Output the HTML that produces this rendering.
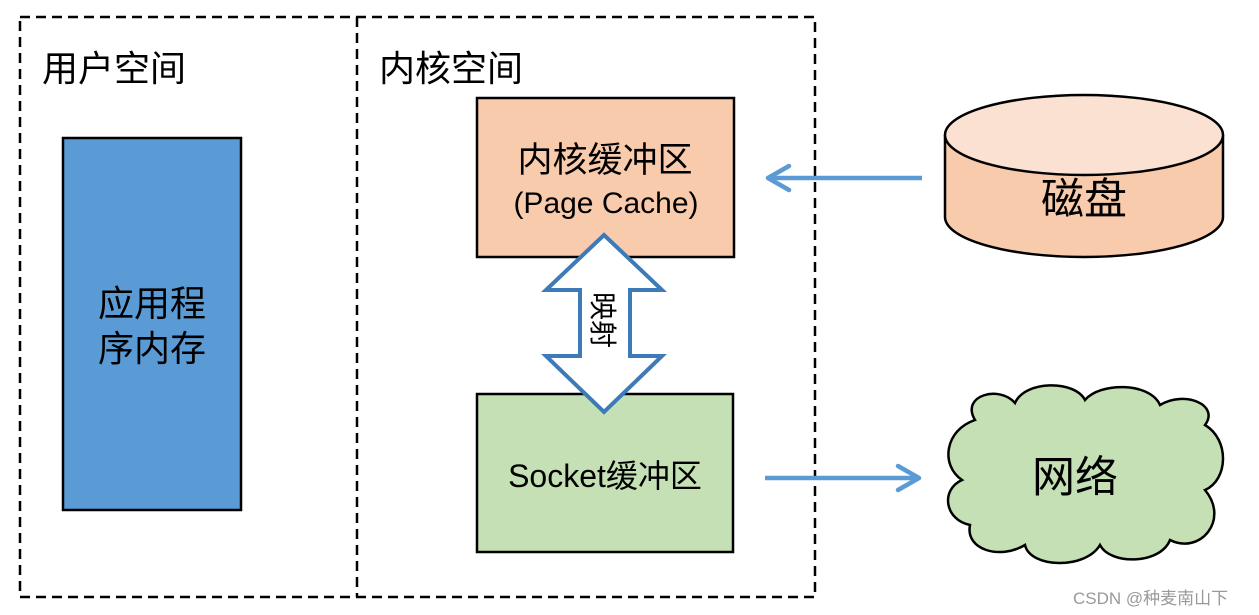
<!DOCTYPE html>
<html><head><meta charset="utf-8"><style>
html,body{margin:0;padding:0;background:#fff;}
svg{display:block;}
text{font-family:"Liberation Sans","Noto Sans CJK SC",sans-serif;fill:#000;}
</style></head><body>
<svg width="1259" height="615" viewBox="0 0 1259 615" xmlns="http://www.w3.org/2000/svg">
<rect x="20" y="17" width="795" height="580" fill="none" stroke="#000" stroke-width="2.5" stroke-dasharray="10,6"/>
<line x1="357" y1="17" x2="357" y2="597" stroke="#000" stroke-width="2.5" stroke-dasharray="10,6"/>
<text x="42" y="81" font-size="36">用户空间</text>
<text x="379" y="81" font-size="36">内核空间</text>
<rect x="63" y="138" width="178" height="372" fill="#5b9bd5" stroke="#000" stroke-width="2.5"/>
<text x="152" y="316" font-size="36" text-anchor="middle">应用程</text>
<text x="152" y="361" font-size="36" text-anchor="middle">序内存</text>
<rect x="477" y="98" width="257" height="159" fill="#f8cbad" stroke="#000" stroke-width="2.5"/>
<text x="605" y="172" font-size="35" text-anchor="middle">内核缓冲区</text>
<text x="606" y="213" font-size="30" text-anchor="middle">(Page Cache)</text>
<rect x="477" y="394" width="256" height="158" fill="#c5e0b4" stroke="#000" stroke-width="2.5"/>
<text x="605" y="487" font-size="32" text-anchor="middle">Socket缓冲区</text>
<polygon points="604,235 662,290 630,290 630,356 662,356 604,412 546,356 580,356 580,290 546,290" fill="#fff" stroke="#3d7ab8" stroke-width="4" stroke-linejoin="miter"/>
<text x="0" y="0" font-size="28" transform="translate(593,292) rotate(90)">映射</text>
<line x1="922" y1="178" x2="770" y2="178" stroke="#5b9bd5" stroke-width="4.5"/>
<polyline points="789,166 768,178 789,190" fill="none" stroke="#5b9bd5" stroke-width="4.5" stroke-linecap="round" stroke-linejoin="round"/>
<line x1="765" y1="478" x2="916" y2="478" stroke="#5b9bd5" stroke-width="4.5"/>
<polyline points="898,466 919,478 898,490" fill="none" stroke="#5b9bd5" stroke-width="4.5" stroke-linecap="round" stroke-linejoin="round"/>
<path d="M945,135 L945,217 A139,40 0 0 0 1223,217 L1223,135" fill="#f8cbad" stroke="#000" stroke-width="2.5"/>
<ellipse cx="1084" cy="135" rx="139" ry="40" fill="#fbe1d2" stroke="#000" stroke-width="2.5"/>
<text x="1084" y="214" font-size="43" text-anchor="middle">磁盘</text>
<path d="M975,420 C960,395 1000,385 1015,403 C1025,380 1075,380 1085,400 C1100,382 1150,382 1160,405 C1185,390 1220,405 1205,425 C1230,440 1228,480 1205,490 C1230,520 1200,555 1170,540 C1160,565 1110,565 1100,545 C1085,570 1030,568 1025,545 C1000,560 965,550 970,525 C945,520 940,490 962,480 C940,465 945,430 975,420 Z" fill="#c5e0b4" stroke="#000" stroke-width="2.5"/>
<text x="1075" y="492" font-size="43" text-anchor="middle">网络</text>
<text x="1073" y="604" font-size="17" style="fill:#999">CSDN @种麦南山下</text>
</svg>
</body></html>
